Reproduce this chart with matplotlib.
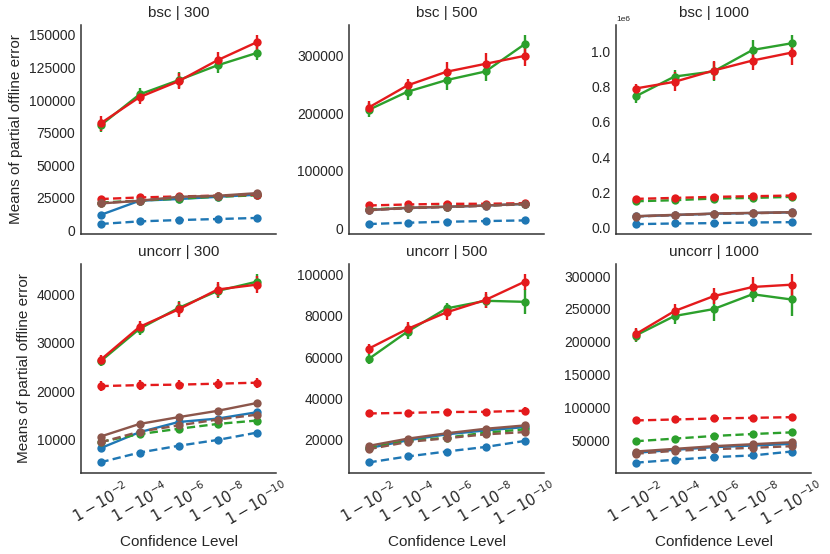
import matplotlib
matplotlib.use("Agg")
import matplotlib.pyplot as plt
import numpy as np

plt.rcParams['font.family'] = ['Liberation Sans', 'DejaVu Sans']
plt.rcParams['text.color'] = '.15'
plt.rcParams['axes.labelcolor'] = '.15'
plt.rcParams['xtick.color'] = '.15'
plt.rcParams['ytick.color'] = '.15'

conf_labels = [r'$1-10^{-2}$', r'$1-10^{-4}$', r'$1-10^{-6}$', r'$1-10^{-8}$', r'$1-10^{-10}$']
rows = ['bsc', 'uncorr']
cols = ['300', '500', '1000']

# series order: blue solid, blue dashed, green solid, green dashed,
#               red solid, red dashed, brown solid, brown dashed
series = ['blue_s', 'blue_d', 'green_s', 'green_d', 'red_s', 'red_d', 'brown_s', 'brown_d']
colors = {'blue': '#1f77b4', 'green': '#2ca02c', 'red': '#e41a1c', 'brown': '#8c564b'}

means_bsc_300 = {
    'blue_s': [12000, 22900, 24200, 25900, 27500],
    'blue_d': [5100, 7100, 8100, 8900, 9700],
    'green_s': [80600, 104300, 115200, 126600, 136000],
    'green_d': [21500, 23000, 24500, 26000, 27000],
    'red_s': [82100, 102200, 114400, 130500, 144200],
    'red_d': [24200, 25400, 26200, 26800, 27500],
    'brown_s': [20800, 22900, 25900, 26700, 28700],
    'brown_d': [21000, 23000, 25500, 26500, 28000],
}
err_bsc_300 = {
    'blue_s': [1500, 800, 800, 800, 800], 'blue_d': [400, 400, 400, 400, 400],
    'green_s': [5000, 5000, 6000, 6000, 5500], 'green_d': [800, 800, 800, 800, 800],
    'red_s': [5500, 5000, 6000, 6000, 6000], 'red_d': [800, 800, 800, 800, 800],
    'brown_s': [800, 800, 800, 800, 800], 'brown_d': [800, 800, 800, 800, 800],
}
means_bsc_500 = {
    'blue_s': [32000, 35500, 37500, 39500, 42500],
    'blue_d': [7500, 9800, 11500, 12700, 13800],
    'green_s': [206000, 237700, 257900, 272900, 320200],
    'green_d': [33000, 36000, 38000, 40000, 42000],
    'red_s': [210000, 248700, 272400, 286200, 300000],
    'red_d': [39800, 41500, 42700, 42700, 43800],
    'brown_s': [31700, 35800, 37500, 39800, 42700],
    'brown_d': [31500, 35000, 37000, 39000, 42000],
}
err_bsc_500 = {
    'blue_s': [1500, 1500, 1500, 1500, 1500], 'blue_d': [800, 800, 800, 800, 800],
    'green_s': [12000, 14000, 18000, 17000, 17000], 'green_d': [1500, 1500, 1500, 1500, 1500],
    'red_s': [11500, 11000, 17000, 18000, 18000], 'red_d': [1500, 1500, 1500, 1500, 1500],
    'brown_s': [1500, 1500, 1500, 1500, 1500], 'brown_d': [1500, 1500, 1500, 1500, 1500],
}
means_bsc_1000 = {
    'blue_s': [63000, 70500, 78000, 82000, 86000],
    'blue_d': [18900, 22700, 24600, 28400, 30200],
    'green_s': [745000, 858000, 887000, 1009000, 1047000],
    'green_d': [149000, 155000, 164500, 168000, 174000],
    'red_s': [790000, 828000, 892000, 949000, 994000],
    'red_d': [162600, 168000, 174000, 177700, 181500],
    'brown_s': [64300, 71800, 79400, 83200, 87000],
    'brown_d': [62000, 70000, 77000, 81000, 85000],
}
err_bsc_1000 = {
    'blue_s': [3000, 3000, 3000, 3000, 3000], 'blue_d': [2000, 2000, 2000, 2000, 2000],
    'green_s': [40000, 40000, 55000, 55000, 50000], 'green_d': [5000, 5000, 5000, 5000, 5000],
    'red_s': [25000, 55000, 55000, 55000, 70000], 'red_d': [5000, 5000, 5000, 5000, 5000],
    'brown_s': [3000, 3000, 3000, 3000, 3000], 'brown_d': [3000, 3000, 3000, 3000, 3000],
}
means_uncorr_300 = {
    'blue_s': [8300, 11600, 13700, 14400, 15700],
    'blue_d': [5400, 7400, 8800, 10000, 11500],
    'green_s': [26200, 32900, 37200, 40700, 42600],
    'green_d': [9600, 11200, 12300, 13300, 14000],
    'red_s': [26500, 33300, 36900, 41000, 42000],
    'red_d': [21100, 21300, 21400, 21600, 21800],
    'brown_s': [10700, 13300, 14700, 16000, 17600],
    'brown_d': [9500, 11700, 13000, 14200, 15200],
}
err_uncorr_300 = {
    'blue_s': [300, 300, 300, 300, 300], 'blue_d': [250, 250, 250, 250, 250],
    'green_s': [1000, 1200, 1500, 1500, 1700], 'green_d': [500, 500, 500, 500, 500],
    'red_s': [1100, 1200, 1600, 1500, 1800], 'red_d': [1000, 1000, 1000, 1000, 1000],
    'brown_s': [300, 300, 300, 300, 300], 'brown_d': [400, 400, 400, 400, 400],
}
means_uncorr_500 = {
    'blue_s': [16000, 19800, 22700, 24600, 26200],
    'blue_d': [9100, 12000, 14400, 16600, 19500],
    'green_s': [59100, 72400, 83600, 87300, 86800],
    'green_d': [16300, 19500, 21100, 23500, 25100],
    'red_s': [64100, 73700, 81700, 87700, 96500],
    'red_d': [32800, 33100, 33500, 33600, 34100],
    'brown_s': [17100, 20600, 23200, 25400, 27000],
    'brown_d': [15500, 19000, 20800, 22700, 23800],
}
err_uncorr_500 = {
    'blue_s': [600, 600, 600, 600, 600], 'blue_d': [500, 500, 500, 500, 500],
    'green_s': [2500, 3500, 2500, 3500, 6000], 'green_d': [800, 800, 800, 800, 800],
    'red_s': [2500, 3500, 3500, 4000, 4000], 'red_d': [1600, 1600, 1600, 1600, 1600],
    'brown_s': [600, 600, 600, 600, 600], 'brown_d': [600, 600, 600, 600, 600],
}
means_uncorr_1000 = {
    'blue_s': [31400, 36000, 40000, 42500, 45000],
    'blue_d': [16400, 20900, 24900, 27400, 33400],
    'green_s': [209600, 239300, 249800, 272400, 264400],
    'green_d': [49000, 53000, 57000, 60000, 62500],
    'red_s': [211600, 246800, 269400, 283400, 286900],
    'red_d': [80600, 82100, 83600, 84600, 85600],
    'brown_s': [33400, 37400, 41500, 44500, 47500],
    'brown_d': [30000, 34400, 37000, 39000, 41500],
}
err_uncorr_1000 = {
    'blue_s': [1500, 1500, 1500, 1500, 1500], 'blue_d': [1200, 1200, 1200, 1200, 1200],
    'green_s': [10000, 12000, 18000, 12000, 25000], 'green_d': [1500, 1500, 1500, 1500, 1500],
    'red_s': [10000, 11000, 12000, 15000, 17000], 'red_d': [2500, 2500, 2500, 2500, 2500],
    'brown_s': [1500, 1500, 1500, 1500, 1500], 'brown_d': [1500, 1500, 1500, 1500, 1500],
}

panels = {
    ('bsc', '300'): (means_bsc_300, err_bsc_300),
    ('bsc', '500'): (means_bsc_500, err_bsc_500),
    ('bsc', '1000'): (means_bsc_1000, err_bsc_1000),
    ('uncorr', '300'): (means_uncorr_300, err_uncorr_300),
    ('uncorr', '500'): (means_uncorr_500, err_uncorr_500),
    ('uncorr', '1000'): (means_uncorr_1000, err_uncorr_1000),
}

fig = plt.figure(figsize=(8.3, 5.54), dpi=100)
W, H = 830, 554
lefts = [81, 349, 616]
width = 195
tops = [25, 264]
height = 209

x = np.arange(len(conf_labels))
for r, row in enumerate(rows):
    for c, col in enumerate(cols):
        ax = fig.add_axes([lefts[c] / W, 1 - (tops[r] + height) / H, width / W, height / H])
        means, errs = panels[(row, col)]
        for s in series:
            hue, kind = s.split('_')
            ls = '-' if kind == 's' else (0, (3.5, 1.8))
            ax.errorbar(x, means[s], yerr=errs[s], color=colors[hue], linestyle=ls,
                        linewidth=1.7, marker='o', markersize=6, markeredgewidth=0,
                        elinewidth=1.7, capsize=0)
        ax.set_xlim(-0.5, len(conf_labels) - 0.5)
        ax.set_title(f'{row} | {col}', fontsize=11)
        for sp in ['top', 'right']:
            ax.spines[sp].set_visible(False)
        for sp in ['left', 'bottom']:
            ax.spines[sp].set_color('.2')
            ax.spines[sp].set_linewidth(1.1)
        ax.tick_params(axis='both', length=0, labelsize=10, pad=4)
        ax.set_xticks(x)
        if r == 1:
            ax.set_xticklabels(conf_labels, rotation=30, fontsize=10.5)
            ax.set_xlabel('Confidence Level', fontsize=11)
        else:
            ax.set_xticklabels([])
        if c == 0:
            ax.set_ylabel('Means of partial offline error', fontsize=11)
        ax.yaxis.get_offset_text().set_fontsize(6)

fig.savefig('out.png', dpi=100)
